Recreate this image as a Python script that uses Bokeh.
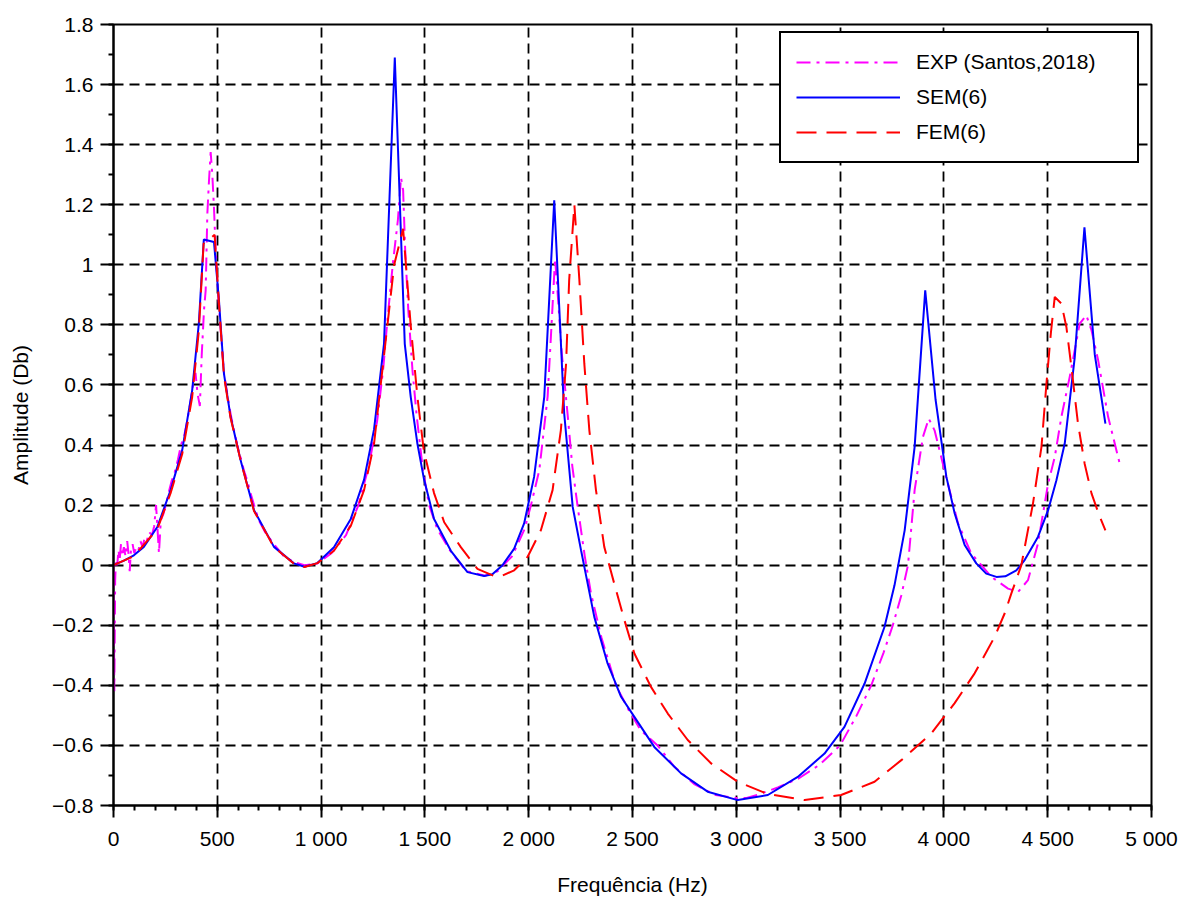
from bokeh.plotting import figure
from bokeh.models import FixedTicker, CustomJSTickFormatter, Legend, LegendItem, Range1d
from bokeh.embed import file_html
from bokeh.resources import INLINE

# ---------------- data ----------------
exp_freq = [0, 4, 8, 12, 18, 24, 30, 36, 42, 50, 58, 66, 72, 78, 84, 92, 100, 110, 120, 130,
            140, 150, 160, 172, 185, 196, 205, 212, 219, 228, 240, 252, 265, 280, 295, 310, 325,
            340, 355, 370, 383, 395, 405, 416, 425, 436, 444, 452, 460, 468, 476, 484, 492, 500,
            508, 520, 532, 548, 565, 580, 596, 612, 628, 645, 660, 677, 700, 730, 773, 820, 870,
            920, 980, 1050, 1120, 1180, 1230, 1270, 1300, 1320, 1345, 1370, 1385, 1395, 1405,
            1420, 1440, 1460, 1490, 1520, 1560, 1620, 1700, 1790, 1850, 1920, 1980, 2011, 2051,
            2091, 2110, 2127, 2140, 2160, 2187, 2210, 2236, 2270, 2300, 2350, 2420, 2480, 2540,
            2621, 2700, 2800, 2900, 3000, 3050, 3100, 3200, 3300, 3400, 3500, 3580, 3650, 3710,
            3754, 3795, 3827, 3859, 3899, 3927, 3955, 3987, 4019, 4068, 4132, 4229, 4309, 4357,
            4405, 4453, 4502, 4534, 4566, 4606, 4654, 4686, 4711, 4743, 4791, 4847]
exp_amp = [0.0, -0.42, -0.05, 0.02, 0.0, 0.05, 0.02, 0.07, 0.03, 0.06, 0.03, 0.08, 0.04, -0.02,
           0.05, 0.07, 0.04, 0.06, 0.05, 0.08, 0.06, 0.09, 0.08, 0.11, 0.10, 0.13, 0.20, 0.12,
           0.04, 0.15, 0.17, 0.20, 0.24, 0.28, 0.31, 0.35, 0.40, 0.43, 0.48, 0.54, 0.60, 0.64,
           0.57, 0.53, 0.70, 0.85, 0.915, 1.17, 1.28, 1.375, 1.30, 1.19, 1.05, 0.95, 0.86, 0.75,
           0.64, 0.57, 0.50, 0.45, 0.40, 0.36, 0.316, 0.28, 0.24, 0.20, 0.15, 0.11, 0.07, 0.03,
           0.01, 0.0, 0.005, 0.04, 0.10, 0.20, 0.33, 0.48, 0.66, 0.82, 1.0, 1.15, 1.29, 1.25,
           1.05, 0.85, 0.65, 0.50, 0.32, 0.20, 0.12, 0.05, -0.02, -0.035, -0.02, 0.03, 0.12,
           0.20, 0.316, 0.56, 0.80, 1.02, 0.90, 0.70, 0.505, 0.33, 0.194, 0.03, -0.094, -0.24,
           -0.40, -0.48, -0.55, -0.60, -0.67, -0.73, -0.765, -0.775, -0.775, -0.765, -0.74,
           -0.71, -0.665, -0.60, -0.50, -0.40, -0.29, -0.20, -0.10, 0.0, 0.25, 0.427, 0.488,
           0.449, 0.36, 0.272, 0.139, 0.039, -0.039, -0.078, -0.089, -0.05, 0.072, 0.272, 0.36,
           0.494, 0.627, 0.804, 0.832, 0.782, 0.682, 0.494, 0.338]

sem_freq = [0, 50, 98, 146, 211, 275, 331, 379, 411, 435, 484, 508, 532, 564, 612, 677, 773,
            869, 920, 982, 1062, 1143, 1207, 1255, 1303, 1355, 1403, 1432, 1464, 1496, 1544,
            1625, 1705, 1785, 1825, 1874, 1930, 1978, 2026, 2075, 2123, 2171, 2212, 2252, 2316,
            2380, 2445, 2509, 2605, 2734, 2862, 3007, 3152, 3296, 3425, 3521, 3618, 3714, 3762,
            3811, 3859, 3910, 3960, 4012, 4052, 4100, 4156, 4204, 4253, 4296, 4349, 4389, 4453,
            4502, 4542, 4582, 4630, 4677, 4727, 4778]
sem_amp = [0.0, 0.015, 0.033, 0.061, 0.127, 0.25, 0.383, 0.582, 0.804, 1.084, 1.076, 0.882,
           0.638, 0.494, 0.35, 0.183, 0.061, 0.006, -0.005, 0.007, 0.06, 0.154, 0.285, 0.452,
           0.737, 1.69, 0.737, 0.559, 0.404, 0.285, 0.154, 0.048, -0.023, -0.036, -0.03, 0.0,
           0.055, 0.139, 0.294, 0.56, 1.215, 0.505, 0.194, 0.05, -0.172, -0.327, -0.438, -0.505,
           -0.605, -0.693, -0.754, -0.782, -0.765, -0.705, -0.627, -0.538, -0.394, -0.205,
           -0.067, 0.116, 0.394, 0.915, 0.55, 0.294, 0.172, 0.067, 0.006, -0.028, -0.039, -0.037,
           -0.017, 0.017, 0.094, 0.183, 0.283, 0.405, 0.69, 1.125, 0.70, 0.471]

fem_freq = [0, 98, 211, 275, 331, 379, 411, 434, 487, 510, 532, 564, 612, 677, 773, 869, 920,
            982, 1062, 1143, 1207, 1255, 1319, 1352, 1395, 1432, 1464, 1495, 1544, 1593, 1673,
            1753, 1834, 1866, 1930, 1995, 2059, 2115, 2155, 2180, 2195, 2220, 2244, 2268, 2292,
            2324, 2364, 2412, 2461, 2509, 2589, 2670, 2766, 2879, 3007, 3152, 3329, 3505, 3666,
            3795, 3939, 4051, 4148, 4244, 4293, 4325, 4373, 4429, 4470, 4494, 4515, 4534, 4566,
            4590, 4614, 4646, 4678, 4711, 4751, 4778]
fem_amp = [0.0, 0.03, 0.12, 0.24, 0.37, 0.56, 0.78, 1.07, 1.10, 0.85, 0.63, 0.49, 0.35, 0.18,
           0.06, 0.005, -0.006, 0.007, 0.048, 0.131, 0.25, 0.404, 0.796, 1.0, 1.12, 0.795, 0.56,
           0.38, 0.24, 0.143, 0.06, -0.012, -0.036, -0.037, -0.017, 0.028, 0.117, 0.25, 0.45,
           0.67, 0.95, 1.2, 0.95, 0.67, 0.45, 0.25, 0.061, -0.061, -0.183, -0.294, -0.405,
           -0.494, -0.582, -0.66, -0.721, -0.762, -0.782, -0.765, -0.721, -0.649, -0.56, -0.46,
           -0.36, -0.239, -0.16, -0.094, 0.0, 0.205, 0.394, 0.605, 0.771, 0.893, 0.871, 0.793,
           0.66, 0.471, 0.338, 0.239, 0.161, 0.116]

series_names = ["EXP (Santos,2018)", "SEM(6)", "FEM(6)"]
x_ticks = [0, 500, 1000, 1500, 2000, 2500, 3000, 3500, 4000, 4500, 5000]
x_minor = list(range(0, 5001, 100))
y_ticks = [-0.8, -0.6, -0.4, -0.2, 0, 0.2, 0.4, 0.6, 0.8, 1, 1.2, 1.4, 1.6, 1.8]
y_minor = [round(-0.8 + 0.1 * i, 1) for i in range(27)]
x_label = "Frequência (Hz)"
y_label = "Amplitude (Db)"

FONT = "Liberation Sans"

p = figure(width=1183, height=898, output_backend="svg", toolbar_location=None,
           x_range=Range1d(0, 5000), y_range=Range1d(-0.8, 1.8),
           min_border_left=113, min_border_right=32, min_border_top=24, min_border_bottom=89)
p.background_fill_color = "white"
p.border_fill_color = "white"
p.outline_line_color = "black"
p.outline_line_width = 2
p.outline_line_alpha = 1.0

# grid
for g in (p.xgrid, p.ygrid):
    g.grid_line_color = "black"
    g.grid_line_width = 1.8
    g.grid_line_dash = "10 6"

# axes
p.xaxis.ticker = FixedTicker(ticks=x_ticks, minor_ticks=x_minor)
p.yaxis.ticker = FixedTicker(ticks=y_ticks, minor_ticks=y_minor)
p.xaxis.formatter = CustomJSTickFormatter(code="""
const t = Math.round(tick);
if (t >= 1000) { return Math.floor(t/1000) + ' ' + String(t % 1000).padStart(3, '0'); }
return String(t);
""")
p.yaxis.formatter = CustomJSTickFormatter(code="""
const v = Math.round(tick*10)/10;
const s = String(Math.abs(v));
return v < 0 ? '\\u2212' + s : s;
""")
for ax in (p.xaxis, p.yaxis):
    ax.axis_line_color = "black"
    ax.axis_line_width = 2
    ax.major_tick_line_color = "black"
    ax.major_tick_line_width = 2
    ax.minor_tick_line_color = "black"
    ax.minor_tick_line_width = 2
    ax.major_tick_in = 0
    ax.minor_tick_in = 0
    ax.minor_tick_out = 5
    ax.major_label_text_font = FONT
    ax.major_label_text_font_size = "21px"
    ax.major_label_text_color = "black"
    ax.axis_label_text_font = FONT
    ax.axis_label_text_font_size = "21px"
    ax.axis_label_text_font_style = "normal"
    ax.axis_label_text_color = "black"
p.xaxis.major_tick_out = 12
p.yaxis.major_tick_out = 13
p.xaxis.major_label_standoff = 9
p.yaxis.major_label_standoff = 7
p.xaxis.axis_label = x_label
p.yaxis.axis_label = y_label
p.xaxis.axis_label_standoff = 20
p.yaxis.axis_label_standoff = 17

# curves
r_exp = p.line(exp_freq, exp_amp, line_color="#ff00ff", line_width=2, line_dash="14 6 3 6")
r_sem = p.line(sem_freq, sem_amp, line_color="#0000ff", line_width=2)
r_fem = p.line(fem_freq, fem_amp, line_color="#ff0000", line_width=2, line_dash="20 10")

legend = Legend(items=[LegendItem(label=series_names[0], renderers=[r_exp]),
                       LegendItem(label=series_names[1], renderers=[r_sem]),
                       LegendItem(label=series_names[2], renderers=[r_fem])],
                location=(666, 642))
legend.label_text_font = FONT
legend.label_text_font_size = "21px"
legend.label_text_color = "black"
legend.glyph_width = 104
legend.glyph_height = 28
legend.label_height = 28
legend.label_width = 206
legend.label_standoff = 16
legend.padding = 15
legend.spacing = 7
legend.border_line_color = "black"
legend.border_line_width = 2
legend.border_line_alpha = 1.0
legend.background_fill_color = "white"
legend.background_fill_alpha = 1.0
p.add_layout(legend)

open("out.html", "w").write(file_html(p, INLINE))
